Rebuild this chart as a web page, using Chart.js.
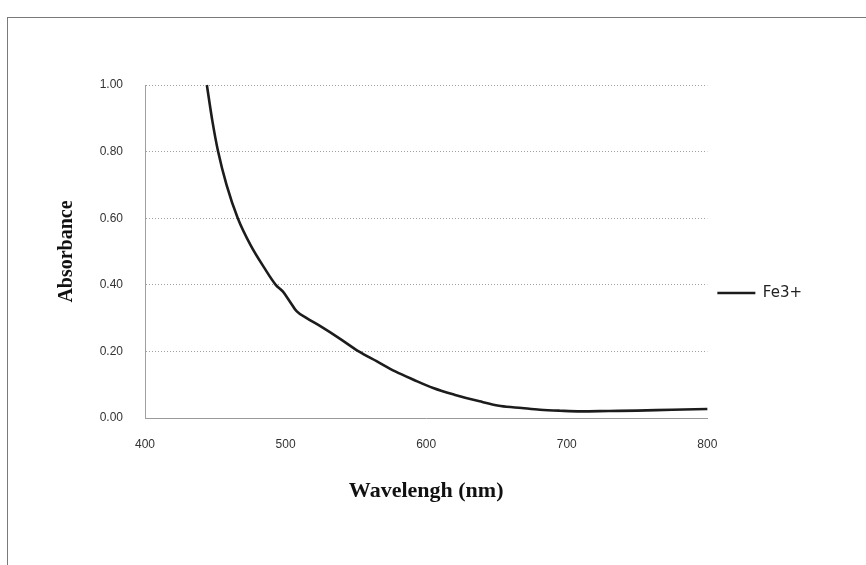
<!DOCTYPE html>
<html>
<head>
<meta charset="utf-8">
<title>Fe3+ absorbance</title>
<script src="https://cdn.jsdelivr.net/npm/chart.js@4/dist/chart.umd.min.js"></script>
<style>
    html, body { margin: 0; padding: 0; background: #fff; }
    #wrap { position: relative; width: 866px; height: 565px; overflow: hidden; }
    #frame { position: absolute; left: 7px; top: 17px; width: 900px; height: 600px; border: 1px solid #7a7a7a; }
    #chart { position: absolute; left: 0; top: 0; }
</style>
</head>
<body>
<div id="wrap">
    <div id="frame"></div>
    <canvas id="chart" width="866" height="565"></canvas>
</div>
<script>
    // 波長 (nm)
    const wavelengths = [444, 448, 452, 458, 466, 475, 485, 493, 498, 503, 508, 515, 525, 538, 552,
        565, 578, 591, 605, 620, 638, 653, 668, 681, 695, 710, 730, 750, 775, 800];
    // 吸光度
    const absorbance = [1.00, 0.89, 0.80, 0.70, 0.60, 0.52, 0.45, 0.40, 0.38, 0.35, 0.32, 0.30, 0.275, 0.24, 0.20,
        0.17, 0.14, 0.115, 0.09, 0.07, 0.05, 0.036, 0.03, 0.025, 0.022, 0.02, 0.021, 0.022, 0.025, 0.027];
    const seriesName = 'Fe3+';
    const xTicks = [400, 500, 600, 700, 800];
    const yTicks = [0, 0.2, 0.4, 0.6, 0.8, 1.0];

    const points = wavelengths.map(function (w, i) {
        return { x: w, y: absorbance[i] };
    });

    const ctx = document.getElementById('chart').getContext('2d');
    const chart = new Chart(ctx, {
        type: 'line',
        data: {
            datasets: [{
                label: seriesName,
                data: points,
                borderColor: '#1c1c1c',
                backgroundColor: '#1c1c1c',
                borderWidth: 2.6,
                pointRadius: 0,
                cubicInterpolationMode: 'monotone',
                clip: false
            }]
        },
        options: {
            responsive: false,
            animation: false,
            layout: {
                padding: { left: 55, top: 85, right: 54, bottom: 64 }
            },
            plugins: {
                legend: {
                    position: 'right',
                    labels: {
                        usePointStyle: true,
                        pointStyle: 'line',
                        pointStyleWidth: 38,
                        color: '#222',
                        font: { family: 'DejaVu Sans', size: 15 },
                        padding: 10
                    }
                },
                tooltip: { enabled: false }
            },
            scales: {
                x: {
                    type: 'linear',
                    min: xTicks[0],
                    max: xTicks[xTicks.length - 1],
                    afterBuildTicks: function (scale) {
                        scale.ticks = xTicks.map(function (v) { return { value: v }; });
                    },
                    afterFit: function (scale) { scale.height = 83; },
                    grid: { display: false, drawTicks: false },
                    border: { display: true, color: '#9a9a9a', width: 1, dash: [1, 2] },
                    ticks: {
                        padding: 19,
                        color: '#333',
                        font: { family: 'Liberation Sans', size: 12 }
                    },
                    title: {
                        display: true,
                        text: 'Wavelengh (nm)',
                        color: '#111',
                        font: { family: 'Liberation Serif', size: 22, weight: 'bold' },
                        padding: { top: 0, bottom: -4 }
                    }
                },
                y: {
                    min: 0,
                    max: 1,
                    afterBuildTicks: function (scale) {
                        scale.ticks = yTicks.map(function (v) { return { value: v }; });
                    },
                    afterFit: function (scale) { scale.width = 90; },
                    grid: {
                        color: '#a0a0a0',
                        lineWidth: 1,
                        drawTicks: false
                    },
                    border: { display: true, color: '#a0a0a0', width: 1, dash: [1, 2] },
                    ticks: {
                        padding: 22,
                        color: '#333',
                        font: { family: 'Liberation Sans', size: 12 },
                        callback: function (v) { return Number(v).toFixed(2); }
                    },
                    title: {
                        display: true,
                        text: 'Absorbance',
                        color: '#111',
                        font: { family: 'Liberation Serif', size: 20, weight: 'bold' },
                        padding: { top: 0, bottom: 0 }
                    }
                }
            }
        }
    });
</script>
</body>
</html>
